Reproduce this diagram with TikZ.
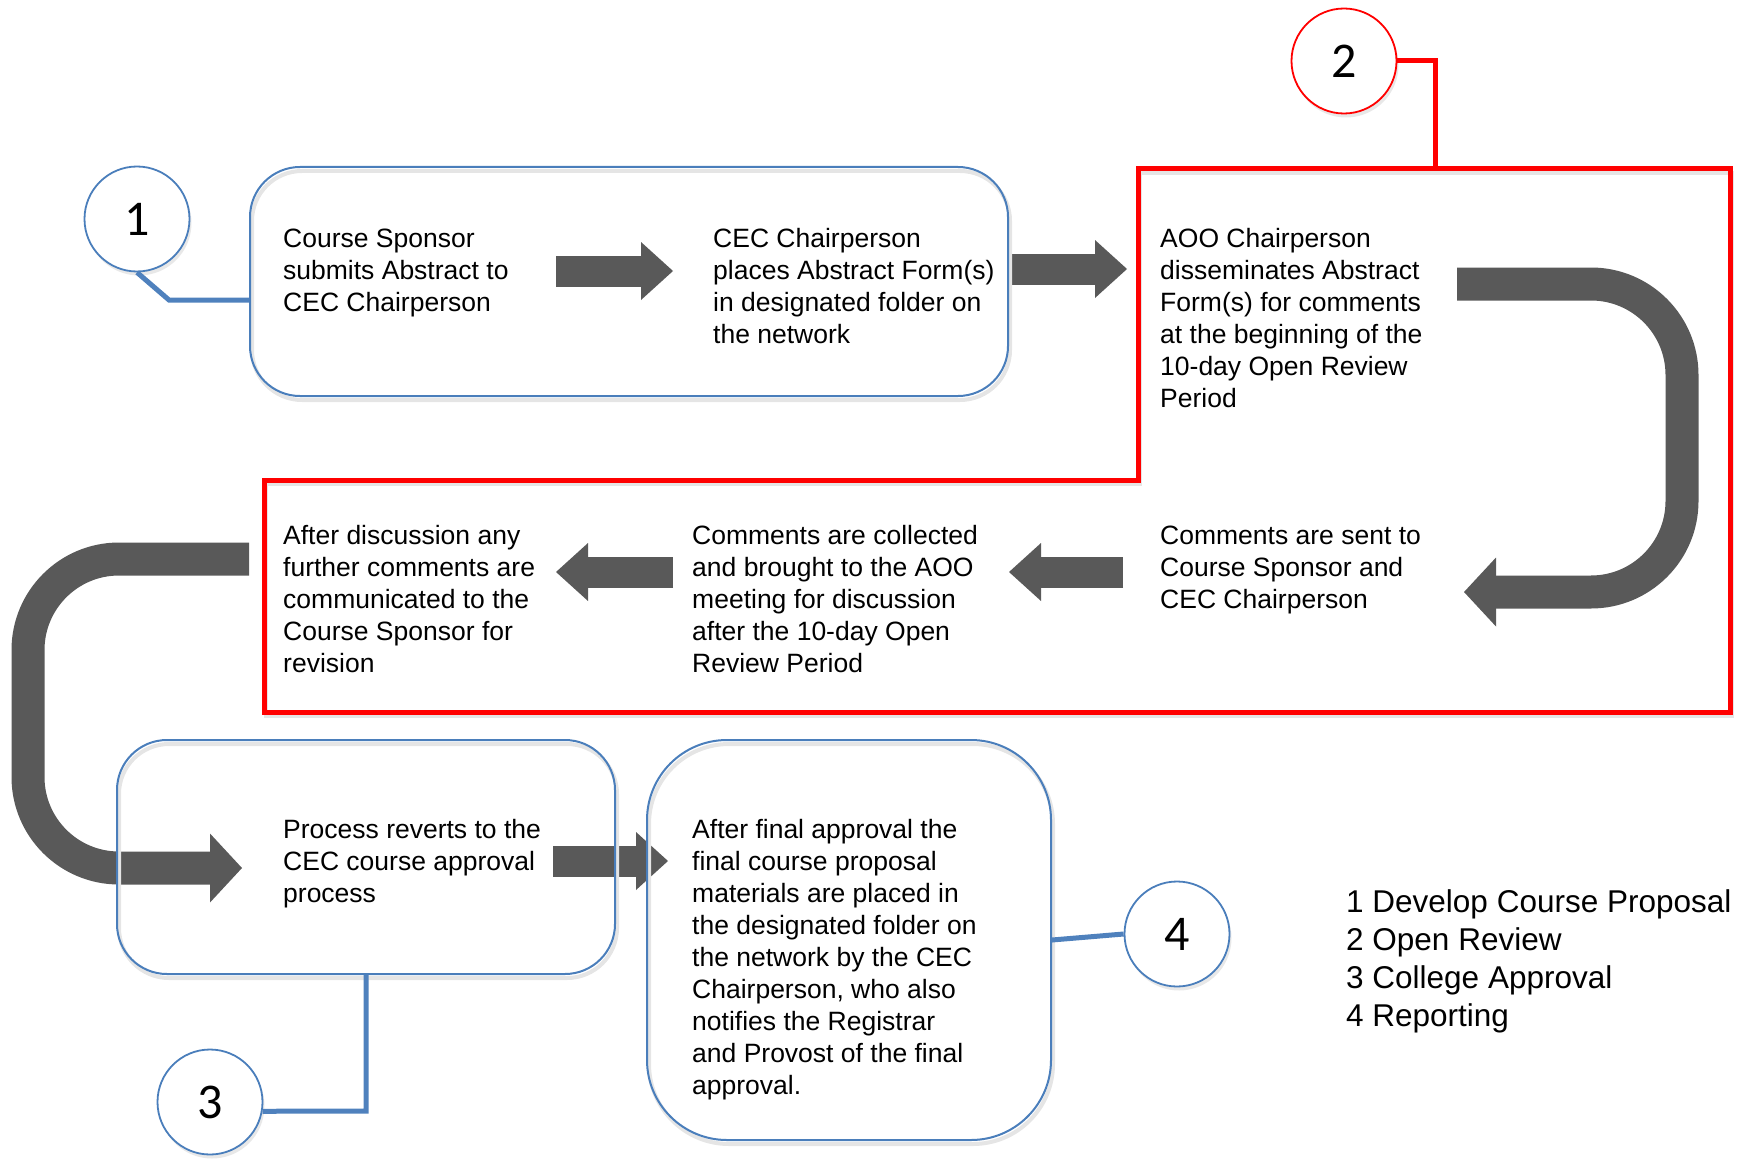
\documentclass[tikz,border=0pt]{standalone}
\usepackage{fontspec}
\setmainfont{Liberation Sans}
\newfontfamily\numfont{Carlito}
\usetikzlibrary{arrows.meta,calc,shadows}
\definecolor{boxblue}{HTML}{4A7EBB}
\definecolor{linkblue}{HTML}{4F81BD}
\definecolor{arrgray}{HTML}{595959}
\definecolor{redline}{HTML}{FF0000}
\begin{document}
\begin{tikzpicture}[x=1pt,y=-1pt,
  grp/.style={draw=boxblue, line width=2pt, inner sep=0pt,
    preaction={draw=black!10, line width=4pt, transform canvas={shift={(2pt,-4pt)}}}},
  numcirc/.style={circle, draw=boxblue, line width=1.8pt, fill=white, minimum size=105pt, inner sep=0pt,
    drop shadow={opacity=0.18, shadow xshift=2pt, shadow yshift=-4pt},
    font=\numfont\fontsize{50}{50}\selectfont},
  txt/.style={anchor=north west, align=left, inner sep=0pt, font=\fontsize{26.5}{32}\selectfont},
  legendtxt/.style={anchor=north west, align=left, inner sep=0pt, font=\fontsize{31.5}{38}\selectfont},
  conn/.style={draw=linkblue, line width=5pt},
  redconn/.style={draw=redline, line width=5pt},
  blk/.style={draw=arrgray, line width=31pt, -{Triangle[length=32pt,width=58pt,line width=0pt]}},
  bigarr/.style={draw=arrgray, line width=33pt, rounded corners=91pt, -{Triangle[length=32pt,width=69pt,line width=0pt]}},
]
\useasboundingbox (0,0) rectangle (1744,1161);

% red open-review region
\coordinate (rtop) at (1435,169);
\draw[redconn, preaction={draw=black!10, line width=4pt, transform canvas={shift={(2pt,-4pt)}}}]
  (1138,169) -- (1730,169) -- (1730,712) -- (264,712) -- (264,480) -- (1138,480) -- cycle;

% step texts
\node[txt] (s1) at (283,223.5) {\rule{0pt}{24pt}Course Sponsor\\submits Abstract to\\CEC Chairperson};
\node[txt] (s2) at (713,223.5) {\rule{0pt}{24pt}CEC Chairperson\\places Abstract Form(s)\\in designated folder on\\the network};
\node[txt] (s3) at (1160,223.5) {\rule{0pt}{24pt}AOO Chairperson\\disseminates Abstract\\Form(s) for comments\\at the beginning of the\\10-day Open Review\\Period};
\node[txt] (s4) at (1160,520.5) {\rule{0pt}{24pt}Comments are sent to\\Course Sponsor and\\CEC Chairperson};
\node[txt] (s5) at (692,520.5) {\rule{0pt}{24pt}Comments are collected\\and brought to the AOO\\meeting for discussion\\after the 10-day Open\\Review Period};
\node[txt] (s6) at (283,520.5) {\rule{0pt}{24pt}After discussion any\\further comments are\\communicated to the\\Course Sponsor for\\revision};
\node[txt] (s7) at (283,814.5) {\rule{0pt}{24pt}Process reverts to the\\CEC course approval\\process};
\node[txt] (s8) at (692,814.5) {\rule{0pt}{24pt}After final approval the\\final course proposal\\materials are placed in\\the designated folder on\\the network by the CEC\\Chairperson, who also\\notifies the Registrar\\and Provost of the final\\approval.};

% arrow end points
\coordinate (a1s) at (556,271);  \coordinate (a1e) at (673,271);
\coordinate (a2s) at (1012,269); \coordinate (a2e) at (1127,269);
\coordinate (a3s) at (1123,572); \coordinate (a3e) at (1009,572);
\coordinate (a4s) at (673,572);  \coordinate (a4e) at (556,572);
\coordinate (a5s) at (553,861);  \coordinate (a5e) at (668,861);
\coordinate (uas) at (1457,284); \coordinate (uae) at (1464,592);
\coordinate (cas) at (249,559);  \coordinate (cae) at (242,868);

% big bent arrows
\draw[bigarr] (uas) -- (1682,284) -- (1682,592) -- (uae);
\draw[bigarr] (cas) -- (28,559) -- (28,868) -- (cae);

% block arrows
\draw[blk] (a1s) -- (a1e);
\draw[blk] (a2s) -- (a2e);
\draw[blk] (a3s) -- (a3e);
\draw[blk] (a4s) -- (a4e);
\draw[blk] (a5s) -- (a5e);

% blue grouping boxes
\node[grp, rounded corners=50pt, minimum width=758pt, minimum height=229pt] (b1) at (629,281.5) {};
\node[grp, rounded corners=50pt, minimum width=498pt, minimum height=234pt] (b3) at (366,857) {};
\node[grp, rounded corners=80pt, minimum width=404pt, minimum height=400pt] (b4) at (849,940) {};

% number circles
\node[numcirc] (c1) at (137,219) {1};
\node[numcirc, draw=redline] (c2) at (1344,61) {2};
\node[numcirc] (c3) at (210,1102) {3};
\node[numcirc] (c4) at (1177,934) {4};

% connectors
\coordinate (k1) at (169,300);
\draw[conn] (c1.south) -- (k1) -- (k1 -| b1.west);
\coordinate (k2) at (1435,61);
\draw[redconn] (c2.east) -- (k2) -- (rtop);
\coordinate (k3) at (366,1111);
\draw[conn] (b3.south) -- (k3) -- (c3.-10);
\draw[conn] (b4.east) -- (c4.west);

% legend
\node[legendtxt] (lg) at (1346,883) {\rule{0pt}{29pt}1 Develop Course Proposal\\2 Open Review\\3 College Approval\\4 Reporting};
\end{tikzpicture}
\end{document}
